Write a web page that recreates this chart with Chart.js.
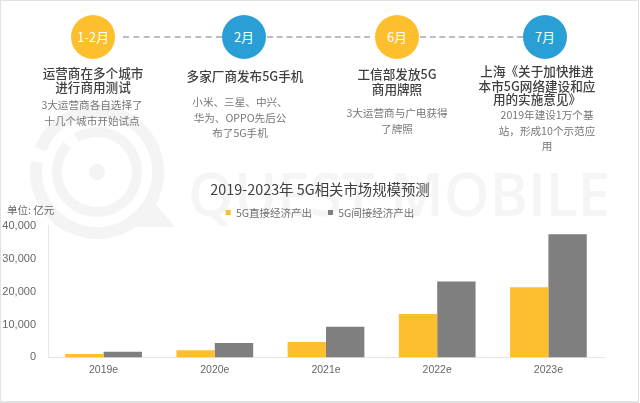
<!DOCTYPE html>
<html lang="zh">
<head>
<meta charset="utf-8">
<script src="https://cdn.jsdelivr.net/npm/chart.js@4"></script>
<style>
html,body{margin:0;padding:0;background:#fff;overflow:hidden}
#page{position:relative;width:640px;height:403px;overflow:hidden;background:#fff;font-family:"Noto Sans CJK SC","Noto Sans",sans-serif;filter:blur(.35px)}
#frame{position:absolute;left:0;top:0;width:637px;height:400px;border:1px solid #e2e2e2;border-bottom-width:2px;box-sizing:content-box}
#wm{position:absolute;left:0;top:0}
canvas#c{position:absolute;left:0;top:0}
.t{position:absolute;transform:translate(-50%,-50%);white-space:nowrap;text-align:center}
.circle{position:absolute;width:44px;height:44px;border-radius:50%;color:#fff;font-size:13px;line-height:44px;text-align:center;transform:translate(-50%,-50%)}
.dash{position:absolute;top:36px;height:0;border-top:2px dashed #bdbdbd}
.head{font-size:12.6px;color:#3f3f3f;font-weight:500}
.sub{font-size:10.6px;color:#767676}
#unit{position:absolute;left:7px;top:202px;font-size:10.5px;color:#666}
</style>
</head>
<body>
<div id="page">
<svg id="wm" width="640" height="403" viewBox="0 0 640 403">
  <g fill="none" stroke="#f4f4f4">
    <circle cx="97" cy="172" r="61" stroke-width="12" stroke-dasharray="369 14" transform="rotate(-158 97 172)"/>
    <circle cx="97" cy="172" r="40" stroke-width="10" stroke-dasharray="239 12" transform="rotate(-121 97 172)"/>
  </g>
  <circle cx="97" cy="172" r="8" fill="#f4f4f4"/>
  <path d="M152 200 L175 227 L137 227 L130 215 Z" fill="#f4f4f4"/>
  <text x="188" y="216" font-family="Open Sans,Noto Sans,sans-serif" font-size="60" font-weight="600" fill="#f5f5f5" textLength="422" lengthAdjust="spacingAndGlyphs">QUEST MOBILE</text>
</svg>
<div id="frame"></div>
<canvas id="c" width="640" height="403"></canvas>
<div id="over"></div>
<div id="unit">单位: 亿元</div>
</div>
<script>
const categories = ['2019e','2020e','2021e','2022e','2023e'];
const directOutput = [1000,2200,4650,13200,21300];
const indirectOutput = [1700,4400,9300,23100,37400];
const seriesNames = ['5G直接经济产出','5G间接经济产出'];
const chartTitle = '2019-2023年 5G相关市场规模预测';
const yTicks = [0,10000,20000,30000,40000];

const months = ['1-2月','2月','6月','7月'];
const heads = [['运营商在多个城市','进行商用测试'],['多家厂商发布5G手机'],['工信部发放5G','商用牌照'],['上海《关于加快推进','本市5G网络建设和应','用的实施意见》']];
const subs = [['3大运营商各自选择了','十几个城市开始试点'],['小米、三星、中兴、','华为、OPPO先后公','布了5G手机'],['3大运营商与广电获得','了牌照'],['2019年建设1万个基','站，形成10个示范应','用']];

const circleX = [93,244,397,545], circleC = ['#FDBF2D','#2A9FD6','#FDBF2D','#2A9FD6'];
const headX = [93,245,397,537], headY = [[72,86],[75],[73,88],[70,85,98]];
const subX = [92,240,397,547], subY = [[104,120],[101,117,132],[112,128],[114,130,145]];
const dashes = [[123,222],[267,370],[420,523]];

const over = document.getElementById('over');
function add(cls,x,y,txt,col){const d=document.createElement('div');d.className=cls;d.style.left=x+'px';d.style.top=y+'px';d.textContent=txt;if(col)d.style.background=col;over.appendChild(d);}
dashes.forEach(([a,b])=>{const d=document.createElement('div');d.className='dash';d.style.left=a+'px';d.style.width=(b-a)+'px';over.appendChild(d);});
months.forEach((m,i)=>{add('circle',circleX[i],37,m,circleC[i]);
  heads[i].forEach((s,j)=>add('t head',headX[i],headY[i][j],s));
  subs[i].forEach((s,j)=>add('t sub',subX[i],subY[i][j],s));});

const legendTrim = {id:'legendTrim',beforeInit(chart){const f=chart.legend.fit;chart.legend.fit=function(){f.call(this);this.height-=2;};}};

new Chart(document.getElementById('c'),{
  type:'bar',
  plugins:[legendTrim],
  data:{labels:categories,datasets:[
    {label:seriesNames[0],data:directOutput,backgroundColor:'#FDBF2D',barPercentage:1,categoryPercentage:.69},
    {label:seriesNames[1],data:indirectOutput,backgroundColor:'#7F7F7F',barPercentage:1,categoryPercentage:.69}
  ]},
  options:{
    responsive:false,animation:false,devicePixelRatio:1,
    layout:{padding:{left:0,right:0,top:181,bottom:21}},
    plugins:{
      title:{display:true,text:chartTitle,color:'#404040',font:{family:'"Noto Sans CJK SC"',size:14.4,weight:'normal'},padding:{top:0,bottom:-7}},
      legend:{position:'top',labels:{usePointStyle:true,pointStyle:'rect',boxWidth:5,boxHeight:5,color:'#707070',padding:16,font:{family:'"Noto Sans CJK SC"',size:10.5}}},
      tooltip:{enabled:false}
    },
    scales:{
      x:{grid:{display:false,drawTicks:false},border:{color:'#e6e6e6'},ticks:{color:'#666',padding:6,font:{family:'"Liberation Sans"',size:10.5},maxRotation:0}},
      y:{min:0,max:40000,afterBuildTicks(a){a.ticks=yTicks.map(v=>({value:v}));},afterFit(a){a.width=48;},
         grid:{display:false,drawTicks:false},border:{color:'#e6e6e6'},
         ticks:{color:'#666',padding:12,font:{family:'"Liberation Sans"',size:11},callback:v=>v.toLocaleString('en-US')}},
      gutter:{position:'right',afterFit(a){a.width=36;},grid:{display:false,drawTicks:false},border:{display:false},ticks:{display:false}}
    }
  }
});
</script>
</body>
</html>
